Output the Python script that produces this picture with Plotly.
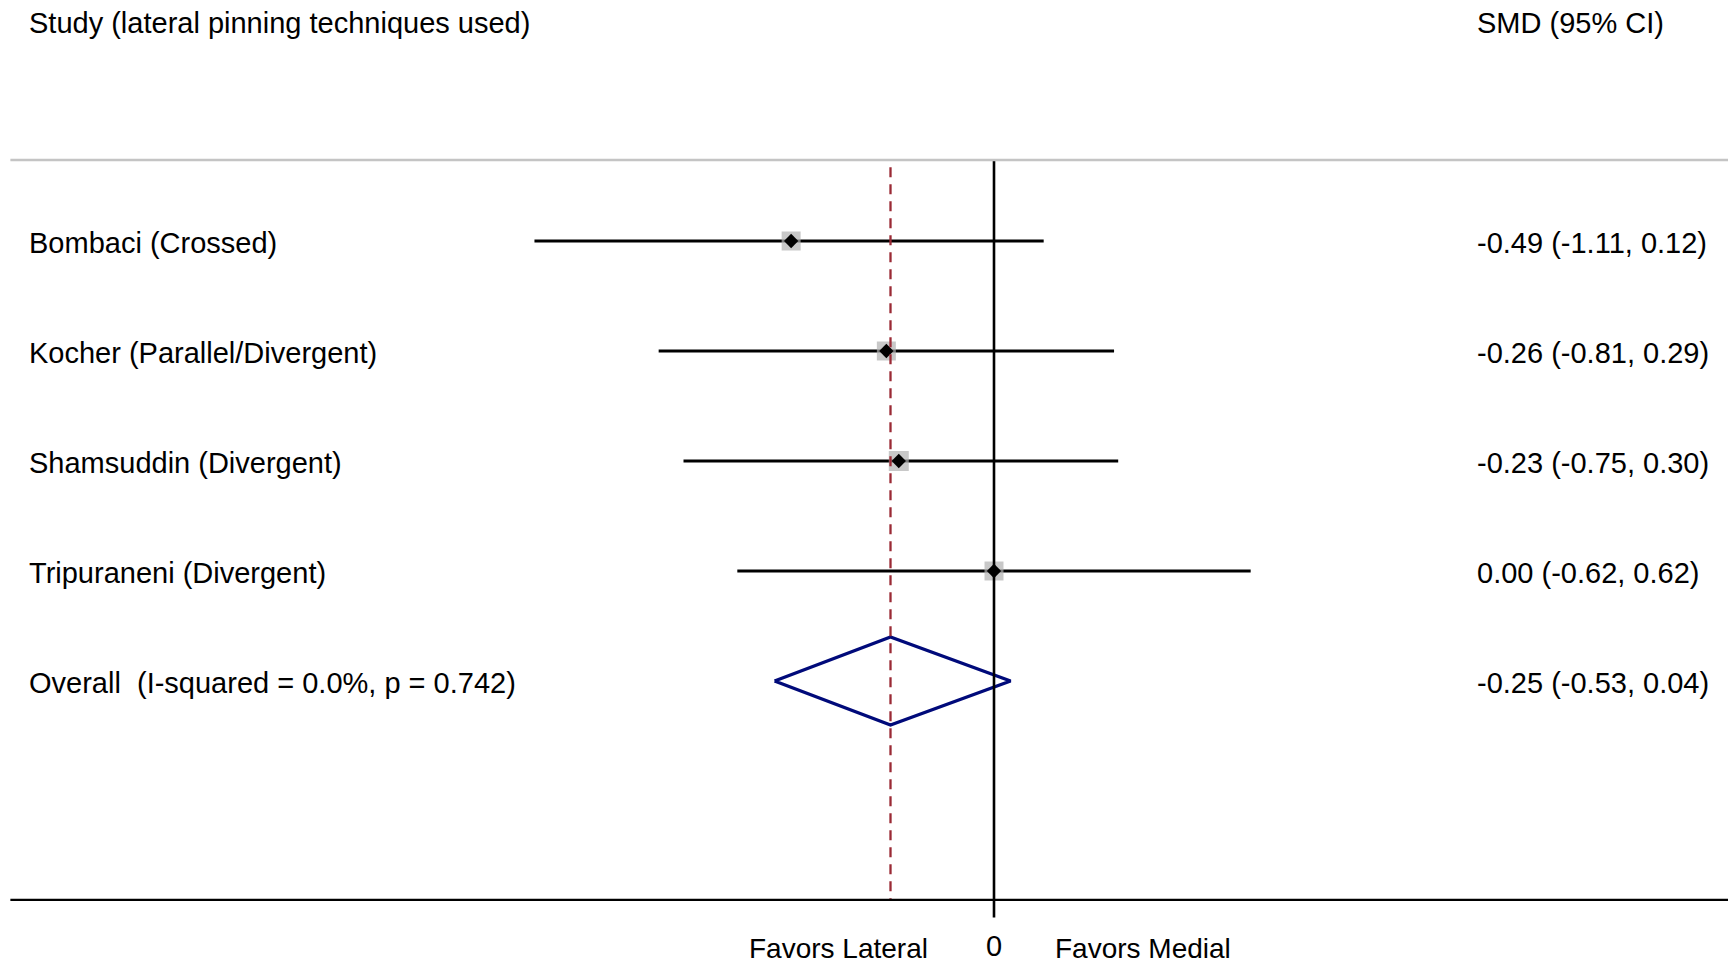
import plotly.graph_objects as go

studies = ["Bombaci (Crossed)", "Kocher (Parallel/Divergent)",
           "Shamsuddin (Divergent)", "Tripuraneni (Divergent)"]
smd = [-0.49, -0.26, -0.23, 0.00]
ci_low = [-1.11, -0.81, -0.75, -0.62]
ci_high = [0.12, 0.29, 0.30, 0.62]
weight_box = [19, 19, 20, 19]

overall_label = "Overall\u00a0\u00a0(I-squared = 0.0%, p = 0.742)"
overall_smd = -0.25
overall_low = -0.53
overall_high = 0.04

header_left = "Study (lateral pinning techniques used)"
header_right = "SMD (95% CI)"
axis_tick = 0
favors_left = "Favors Lateral"
favors_right = "Favors Medial"

FONT = "Liberation Sans, Arial, sans-serif"
FS = 29
rows = list(range(1, len(studies) + 1))
overall_row = len(studies) + 1

fig = go.Figure()

# CI lines
cx, cy = [], []
for r, lo, hi in zip(rows, ci_low, ci_high):
    cx += [lo, hi, None]
    cy += [r, r, None]
fig.add_trace(go.Scatter(x=cx, y=cy, mode="lines",
                         line=dict(color="black", width=3.2),
                         hoverinfo="skip", showlegend=False))
# weight boxes
fig.add_trace(go.Scatter(x=smd, y=rows, mode="markers",
                         marker=dict(symbol="square", size=weight_box, color="#b0b0b0",
                                     line=dict(width=0)),
                         showlegend=False))
# point estimates
fig.add_trace(go.Scatter(x=smd, y=rows, mode="markers",
                         marker=dict(symbol="diamond", size=11, color="black",
                                     line=dict(width=0)),
                         showlegend=False))

# zero line and dashed overall line
fig.add_shape(type="line", xref="x", yref="y", x0=axis_tick, x1=axis_tick,
              y0=0.264, y1=7.15, line=dict(color="black", width=2.6))
fig.add_shape(type="line", xref="x", yref="y", x0=overall_smd, x1=overall_smd,
              y0=0.33, y1=6.99, line=dict(color="#9a2a35", width=2.3, dash="10px,7px"))

# overall diamond
h = 0.4
fig.add_trace(go.Scatter(
    x=[overall_low, overall_smd, overall_high, overall_smd, overall_low],
    y=[overall_row, overall_row - h, overall_row, overall_row + h, overall_row],
    mode="lines", line=dict(color="#000a7a", width=3.4),
    hoverinfo="skip", showlegend=False))

# horizontal lines
fig.add_shape(type="line", xref="paper", yref="y", x0=0.006, x1=1, y0=0.264, y1=0.264,
              line=dict(color="#c4c4c4", width=2.6))
fig.add_shape(type="line", xref="paper", yref="y", x0=0.006, x1=1, y0=6.99, y1=6.99,
              line=dict(color="black", width=2.3))

# texts
def txt(x, y, s, xref="paper", xanchor="left", size=FS, yshift=-2):
    fig.add_annotation(x=x, y=y, xref=xref, yref="y", text=s, showarrow=False,
                       xanchor=xanchor, yanchor="middle", yshift=yshift, borderpad=0,
                       font=dict(family=FONT, size=size, color="black"))

LX = 28 / 1728
RX = 1476 / 1728
txt(LX, -1.0, header_left)
txt(RX, -1.0, header_right)
for r, s, e, lo, hi in zip(rows, studies, smd, ci_low, ci_high):
    txt(LX, r, s)
    txt(RX, r, f"{e:.2f} ({lo:.2f}, {hi:.2f})")
txt(LX, overall_row, overall_label)
txt(RX, overall_row, f"{overall_smd:.2f} ({overall_low:.2f}, {overall_high:.2f})")

txt(axis_tick, 7.39, str(axis_tick), xref="x", xanchor="center")
txt(-0.375, 7.46, favors_left, xref="x", xanchor="center", size=28, yshift=3)
txt(0.36, 7.46, favors_right, xref="x", xanchor="center", size=28, yshift=3)

fig.update_layout(
    width=1728, height=967,
    margin=dict(l=0, r=0, t=0, b=0),
    paper_bgcolor="white", plot_bgcolor="white",
    xaxis=dict(range=[-994 / 414, (1728 - 994) / 414], visible=False, fixedrange=True),
    yaxis=dict(range=[1 + 726 / 110, 1 - 241 / 110], visible=False, fixedrange=True),
)

fig.write_html("out.html")
